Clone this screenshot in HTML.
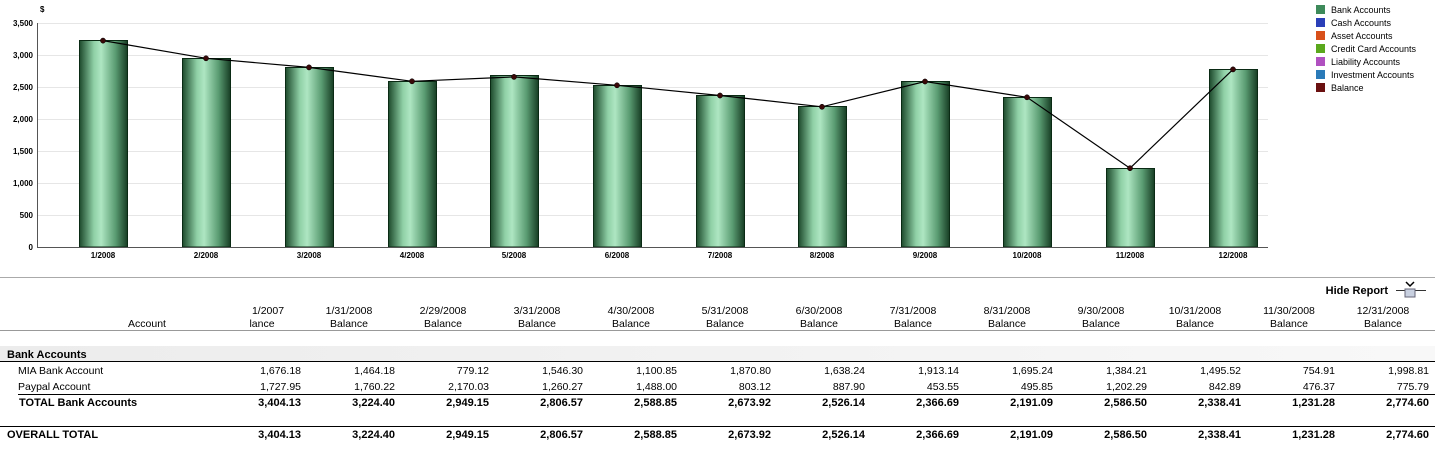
<!DOCTYPE html>
<html><head><style>
body{margin:0;background:#fff;width:1435px;height:456px;overflow:hidden;font-family:"Liberation Sans",sans-serif}
svg{display:block}
</style></head><body>
<svg width="1435" height="456" xmlns="http://www.w3.org/2000/svg">
<defs>
<linearGradient id="bg" x1="0" x2="1" y1="0" y2="0">
<stop offset="0" stop-color="#1d4a2c"/><stop offset="0.3" stop-color="#8fd0a6"/><stop offset="0.45" stop-color="#aee6c2"/><stop offset="0.75" stop-color="#5a9c72"/><stop offset="1" stop-color="#173d24"/>
</linearGradient>
<linearGradient id="band" x1="0" x2="1"><stop offset="0" stop-color="#ececec"/><stop offset="1" stop-color="#f8f8f8"/></linearGradient>
</defs>
<g stroke="#e6e6e6" stroke-width="1">
<line x1="37" x2="1268" y1="23.5" y2="23.5"/><line x1="37" x2="1268" y1="55.5" y2="55.5"/><line x1="37" x2="1268" y1="87.5" y2="87.5"/><line x1="37" x2="1268" y1="119.5" y2="119.5"/><line x1="37" x2="1268" y1="151.5" y2="151.5"/><line x1="37" x2="1268" y1="183.5" y2="183.5"/><line x1="37" x2="1268" y1="215.5" y2="215.5"/>
</g>
<g font-size="8" font-weight="bold" fill="#000" text-anchor="end">
<text x="40" y="12" text-anchor="start">$</text>
<text x="33" y="26">3,500</text><text x="33" y="58">3,000</text><text x="33" y="90">2,500</text><text x="33" y="122">2,000</text><text x="33" y="154">1,500</text><text x="33" y="186">1,000</text><text x="33" y="218">500</text><text x="33" y="250">0</text>
</g>
<g stroke="#0a2a14" stroke-width="1" fill="url(#bg)">
<rect x="79.5" y="40.5" width="48" height="206.5"/>
<rect x="182.5" y="58.5" width="48" height="188.5"/>
<rect x="285.5" y="67.5" width="48" height="179.5"/>
<rect x="388.5" y="81.5" width="48" height="165.5"/>
<rect x="490.5" y="75.5" width="48" height="171.5"/>
<rect x="593.5" y="85.5" width="48" height="161.5"/>
<rect x="696.5" y="95.5" width="48" height="151.5"/>
<rect x="798.5" y="106.5" width="48" height="140.5"/>
<rect x="901.5" y="81.5" width="48" height="165.5"/>
<rect x="1003.5" y="97.5" width="48" height="149.5"/>
<rect x="1106.5" y="168.5" width="48" height="78.5"/>
<rect x="1209.5" y="69.5" width="48" height="177.5"/>
</g>
<line x1="37.5" x2="37.5" y1="23" y2="247" stroke="#555"/>
<line x1="37" x2="1268" y1="247.5" y2="247.5" stroke="#555"/>
<polyline fill="none" stroke="#000" stroke-width="1.2" points="103,40.6 206,58.3 309,67.4 412,81.3 514,76.9 617,85.3 720,95.5 822,106.8 925,81.5 1027,97.3 1130,168.2 1233,69.4"/>
<g fill="#3a0808" stroke="#000" stroke-width="0.5">
<circle cx="103" cy="40.6" r="2.6"/><circle cx="206" cy="58.3" r="2.6"/><circle cx="309" cy="67.4" r="2.6"/><circle cx="412" cy="81.3" r="2.6"/><circle cx="514" cy="76.9" r="2.6"/><circle cx="617" cy="85.3" r="2.6"/><circle cx="720" cy="95.5" r="2.6"/><circle cx="822" cy="106.8" r="2.6"/><circle cx="925" cy="81.5" r="2.6"/><circle cx="1027" cy="97.3" r="2.6"/><circle cx="1130" cy="168.2" r="2.6"/><circle cx="1233" cy="69.4" r="2.6"/>
</g>
<g font-size="8" font-weight="bold" text-anchor="middle">
<text x="103" y="258">1/2008</text><text x="206" y="258">2/2008</text><text x="309" y="258">3/2008</text><text x="412" y="258">4/2008</text><text x="514" y="258">5/2008</text><text x="617" y="258">6/2008</text><text x="720" y="258">7/2008</text><text x="822" y="258">8/2008</text><text x="925" y="258">9/2008</text><text x="1027" y="258">10/2008</text><text x="1130" y="258">11/2008</text><text x="1233" y="258">12/2008</text>
</g>
<g font-size="9">
<rect x="1316" y="5" width="9" height="9" fill="#3d8a5a"/><text x="1331" y="13">Bank Accounts</text>
<rect x="1316" y="18" width="9" height="9" fill="#2a3fb8"/><text x="1331" y="26">Cash Accounts</text>
<rect x="1316" y="31" width="9" height="9" fill="#d8501a"/><text x="1331" y="39">Asset Accounts</text>
<rect x="1316" y="44" width="9" height="9" fill="#5aa81c"/><text x="1331" y="52">Credit Card Accounts</text>
<rect x="1316" y="57" width="9" height="9" fill="#b050c0"/><text x="1331" y="65">Liability Accounts</text>
<rect x="1316" y="70" width="9" height="9" fill="#2a7ab8"/><text x="1331" y="78">Investment Accounts</text>
<rect x="1316" y="83" width="9" height="9" fill="#6a1010"/><text x="1331" y="91">Balance</text>
</g>
<line x1="0" x2="1435" y1="277.5" y2="277.5" stroke="#aaa"/>
<text x="1388" y="294" font-size="11" font-weight="bold" text-anchor="end">Hide Report</text>
<line x1="1396" x2="1426" y1="290.5" y2="290.5" stroke="#333"/>
<rect x="1405" y="289" width="10" height="8" fill="#c8d0e0" stroke="#667"/>
<path d="M1406 282 l4 4 l4 -4" fill="none" stroke="#000" stroke-width="1.5"/>
<g font-size="10.5" text-anchor="middle">
<text x="147" y="327">Account</text>
<text x="268" y="314">1/2007</text><text x="262" y="327">lance</text>
<text x="349" y="314">1/31/2008</text><text x="349" y="327">Balance</text>
<text x="443" y="314">2/29/2008</text><text x="443" y="327">Balance</text>
<text x="537" y="314">3/31/2008</text><text x="537" y="327">Balance</text>
<text x="631" y="314">4/30/2008</text><text x="631" y="327">Balance</text>
<text x="725" y="314">5/31/2008</text><text x="725" y="327">Balance</text>
<text x="819" y="314">6/30/2008</text><text x="819" y="327">Balance</text>
<text x="913" y="314">7/31/2008</text><text x="913" y="327">Balance</text>
<text x="1007" y="314">8/31/2008</text><text x="1007" y="327">Balance</text>
<text x="1101" y="314">9/30/2008</text><text x="1101" y="327">Balance</text>
<text x="1195" y="314">10/31/2008</text><text x="1195" y="327">Balance</text>
<text x="1289" y="314">11/30/2008</text><text x="1289" y="327">Balance</text>
<text x="1383" y="314">12/31/2008</text><text x="1383" y="327">Balance</text>
</g>
<line x1="0" x2="1435" y1="330.5" y2="330.5" stroke="#999"/>
<rect x="0" y="346" width="1435" height="15" fill="url(#band)"/>
<text x="7" y="358" font-size="11" font-weight="bold">Bank Accounts</text>
<line x1="0" x2="1435" y1="361.5" y2="361.5" stroke="#000"/>
<g font-size="10.5">
<text x="18" y="374">MIA Bank Account</text><text x="18" y="390">Paypal Account</text>
</g>
<line x1="18" x2="1435" y1="394.5" y2="394.5" stroke="#000"/>
<text x="19" y="406" font-size="11" font-weight="bold">TOTAL Bank Accounts</text>
<line x1="0" x2="1435" y1="426.5" y2="426.5" stroke="#000"/>
<text x="7" y="438" font-size="11" font-weight="bold">OVERALL TOTAL</text>
<g font-size="10.5" text-anchor="end">
<text x="301" y="374">1,676.18</text><text x="395" y="374">1,464.18</text><text x="489" y="374">779.12</text><text x="583" y="374">1,546.30</text><text x="677" y="374">1,100.85</text><text x="771" y="374">1,870.80</text><text x="865" y="374">1,638.24</text><text x="959" y="374">1,913.14</text><text x="1053" y="374">1,695.24</text><text x="1147" y="374">1,384.21</text><text x="1241" y="374">1,495.52</text><text x="1335" y="374">754.91</text><text x="1429" y="374">1,998.81</text>
<text x="301" y="390">1,727.95</text><text x="395" y="390">1,760.22</text><text x="489" y="390">2,170.03</text><text x="583" y="390">1,260.27</text><text x="677" y="390">1,488.00</text><text x="771" y="390">803.12</text><text x="865" y="390">887.90</text><text x="959" y="390">453.55</text><text x="1053" y="390">495.85</text><text x="1147" y="390">1,202.29</text><text x="1241" y="390">842.89</text><text x="1335" y="390">476.37</text><text x="1429" y="390">775.79</text>
</g>
<g font-size="11" font-weight="bold" text-anchor="end">
<text x="301" y="406">3,404.13</text><text x="395" y="406">3,224.40</text><text x="489" y="406">2,949.15</text><text x="583" y="406">2,806.57</text><text x="677" y="406">2,588.85</text><text x="771" y="406">2,673.92</text><text x="865" y="406">2,526.14</text><text x="959" y="406">2,366.69</text><text x="1053" y="406">2,191.09</text><text x="1147" y="406">2,586.50</text><text x="1241" y="406">2,338.41</text><text x="1335" y="406">1,231.28</text><text x="1429" y="406">2,774.60</text>
<text x="301" y="438">3,404.13</text><text x="395" y="438">3,224.40</text><text x="489" y="438">2,949.15</text><text x="583" y="438">2,806.57</text><text x="677" y="438">2,588.85</text><text x="771" y="438">2,673.92</text><text x="865" y="438">2,526.14</text><text x="959" y="438">2,366.69</text><text x="1053" y="438">2,191.09</text><text x="1147" y="438">2,586.50</text><text x="1241" y="438">2,338.41</text><text x="1335" y="438">1,231.28</text><text x="1429" y="438">2,774.60</text>
</g>
</svg>
</body></html>
